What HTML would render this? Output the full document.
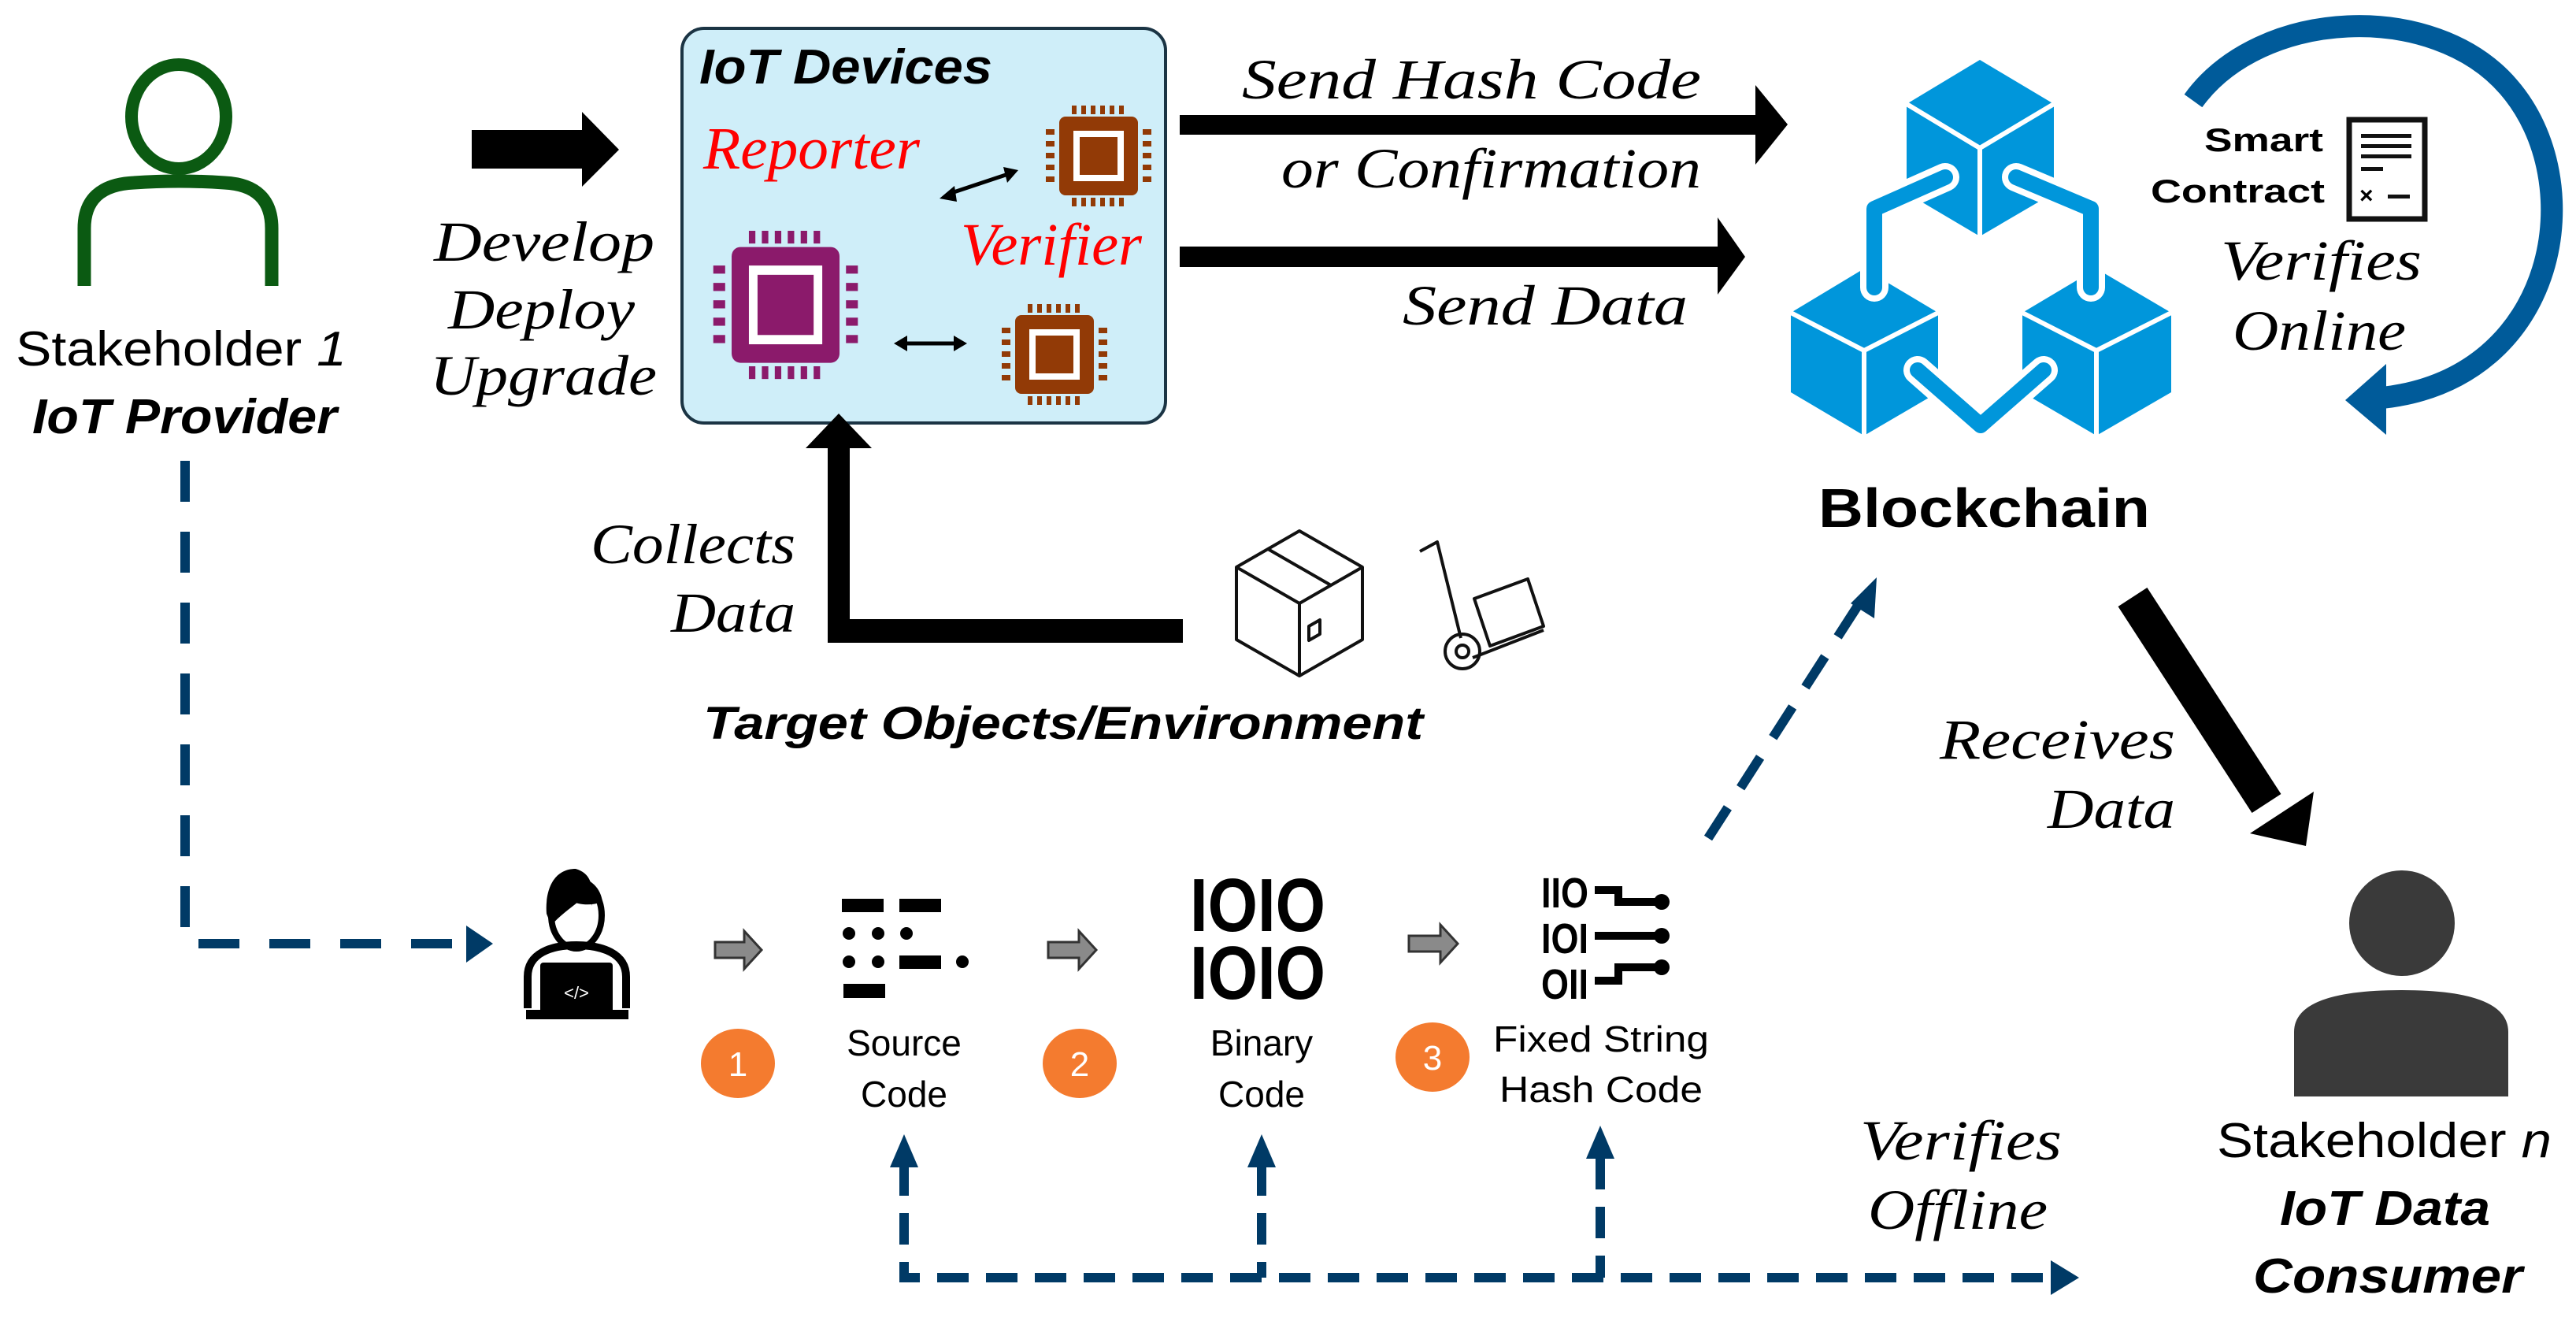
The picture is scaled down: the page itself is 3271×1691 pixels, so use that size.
<!DOCTYPE html>
<html><head><meta charset="utf-8"><style>html,body{margin:0;padding:0;background:#fff}svg{display:block}</style></head><body>
<svg xmlns="http://www.w3.org/2000/svg" width="3271" height="1691" viewBox="0 0 3271 1691">
<defs>
<g id="chip">
<rect x="19" y="14" width="100" height="100" rx="8" fill="#923a06"/>
<rect x="37" y="32" width="64" height="64" fill="#fff"/>
<rect x="45" y="40" width="48" height="48" fill="#923a06"/>
<g fill="#923a06">
<rect x="35" y="0" width="6" height="11"/><rect x="47" y="0" width="6" height="11"/><rect x="59" y="0" width="6" height="11"/><rect x="71" y="0" width="6" height="11"/><rect x="83" y="0" width="6" height="11"/><rect x="95" y="0" width="6" height="11"/>
<rect x="35" y="117" width="6" height="11"/><rect x="47" y="117" width="6" height="11"/><rect x="59" y="117" width="6" height="11"/><rect x="71" y="117" width="6" height="11"/><rect x="83" y="117" width="6" height="11"/><rect x="95" y="117" width="6" height="11"/>
<rect x="2" y="30" width="11" height="7"/><rect x="2" y="45" width="11" height="7"/><rect x="2" y="60" width="11" height="7"/><rect x="2" y="75" width="11" height="7"/><rect x="2" y="90" width="11" height="7"/>
<rect x="125" y="30" width="11" height="7"/><rect x="125" y="45" width="11" height="7"/><rect x="125" y="60" width="11" height="7"/><rect x="125" y="75" width="11" height="7"/><rect x="125" y="90" width="11" height="7"/>
</g>
</g>
</defs>

<!-- Stakeholder 1 -->
<ellipse cx="227" cy="148" rx="60" ry="66" fill="none" stroke="#0b5a12" stroke-width="16"/>
<path d="M107 363 V290 Q107 235 170 232 Q227 228 285 232 Q345 235 345 290 V363" fill="none" stroke="#0b5a12" stroke-width="17"/>
<text x="20" y="464" font-family="Liberation Sans, sans-serif" font-size="62" textLength="420" lengthAdjust="spacingAndGlyphs">Stakeholder <tspan font-style="italic">1</tspan></text>
<text x="41" y="550" font-family="Liberation Sans, sans-serif" font-size="62" font-weight="bold" font-style="italic" textLength="387" lengthAdjust="spacingAndGlyphs">IoT Provider</text>

<path d="M235 585 V1198 H600" fill="none" stroke="#003a66" stroke-width="12" stroke-dasharray="52 38"/>
<polygon points="592,1175 626,1198 592,1222" fill="#003a66"/>

<polygon points="599,165 739,165 739,142 786,190 739,237 739,214 599,214" fill="#000"/>

<g font-family="Liberation Serif, serif" font-style="italic" font-size="72">
<text x="551" y="331" textLength="280" lengthAdjust="spacingAndGlyphs">Develop</text>
<text x="569" y="417" textLength="237" lengthAdjust="spacingAndGlyphs">Deploy</text>
<text x="546" y="501" textLength="288" lengthAdjust="spacingAndGlyphs">Upgrade</text>
</g>

<rect x="866" y="36" width="614" height="501" rx="28" fill="#cfeef9" stroke="#1b3444" stroke-width="4"/>
<text x="888" y="106" font-family="Liberation Sans, sans-serif" font-size="62" font-weight="bold" font-style="italic" textLength="372" lengthAdjust="spacingAndGlyphs">IoT Devices</text>
<text x="893" y="214" font-family="Liberation Serif, serif" font-size="76" font-style="italic" fill="#ff0000" textLength="275" lengthAdjust="spacingAndGlyphs">Reporter</text>
<text x="1220" y="336" font-family="Liberation Serif, serif" font-size="76" font-style="italic" fill="#ff0000" textLength="230" lengthAdjust="spacingAndGlyphs">Verifier</text>
<use href="#chip" x="1326" y="134"/>
<use href="#chip" x="1270" y="386"/>
<g transform="translate(903,293) scale(1.37,1.47)">
<rect x="19" y="14" width="100" height="100" rx="8" fill="#8b1a6b"/>
<rect x="35" y="30" width="68" height="68" fill="#fff"/>
<rect x="43" y="38" width="52" height="52" fill="#8b1a6b"/>
<g fill="#8b1a6b">
<rect x="35" y="0" width="6" height="11"/><rect x="47" y="0" width="6" height="11"/><rect x="59" y="0" width="6" height="11"/><rect x="71" y="0" width="6" height="11"/><rect x="83" y="0" width="6" height="11"/><rect x="95" y="0" width="6" height="11"/>
<rect x="35" y="117" width="6" height="11"/><rect x="47" y="117" width="6" height="11"/><rect x="59" y="117" width="6" height="11"/><rect x="71" y="117" width="6" height="11"/><rect x="83" y="117" width="6" height="11"/><rect x="95" y="117" width="6" height="11"/>
<rect x="2" y="30" width="11" height="7"/><rect x="2" y="45" width="11" height="7"/><rect x="2" y="60" width="11" height="7"/><rect x="2" y="75" width="11" height="7"/><rect x="2" y="90" width="11" height="7"/>
<rect x="125" y="30" width="11" height="7"/><rect x="125" y="45" width="11" height="7"/><rect x="125" y="60" width="11" height="7"/><rect x="125" y="75" width="11" height="7"/><rect x="125" y="90" width="11" height="7"/>
</g></g>
<line x1="1205" y1="246" x2="1280" y2="221" stroke="#000" stroke-width="5"/>
<polygon points="1193,252 1212,236 1215,256" fill="#000"/>
<polygon points="1293,216 1274,212 1279,232" fill="#000"/>
<line x1="1148" y1="436" x2="1214" y2="436" stroke="#000" stroke-width="5"/>
<polygon points="1135,436 1152,426 1152,446" fill="#000"/>
<polygon points="1228,436 1211,426 1211,446" fill="#000"/>

<polygon points="1498,146 2229,146 2229,108 2270,158 2229,209 2229,171 1498,171" fill="#000"/>
<polygon points="1498,313 2181,313 2181,276 2216,326 2181,374 2181,339 1498,339" fill="#000"/>
<g font-family="Liberation Serif, serif" font-style="italic" font-size="72">
<text x="1577" y="125" textLength="583" lengthAdjust="spacingAndGlyphs">Send Hash Code</text>
<text x="1627" y="238" textLength="533" lengthAdjust="spacingAndGlyphs">or Confirmation</text>
<text x="1781" y="412" textLength="362" lengthAdjust="spacingAndGlyphs">Send Data</text>
<text x="750" y="715" textLength="260" lengthAdjust="spacingAndGlyphs">Collects</text>
<text x="852" y="802" textLength="158" lengthAdjust="spacingAndGlyphs">Data</text>
<text x="2820" y="355" textLength="255" lengthAdjust="spacingAndGlyphs">Verifies</text>
<text x="2835" y="444" textLength="220" lengthAdjust="spacingAndGlyphs">Online</text>
<text x="2463" y="963" textLength="299" lengthAdjust="spacingAndGlyphs">Receives</text>
<text x="2600" y="1051" textLength="162" lengthAdjust="spacingAndGlyphs">Data</text>
<text x="2362" y="1472" textLength="256" lengthAdjust="spacingAndGlyphs">Verifies</text>
<text x="2372" y="1560" textLength="228" lengthAdjust="spacingAndGlyphs">Offline</text>
</g>

<polygon points="1051,569 1023,569 1065,525 1107,569 1079,569 1079,786 1502,786 1502,816 1051,816" fill="#000"/>

<g fill="none" stroke="#111" stroke-width="4" stroke-linejoin="round">
<polygon points="1650,674 1730,720 1730,812 1650,858 1570,812 1570,720"/>
<polyline points="1570,720 1650,766 1730,720"/>
<line x1="1650" y1="766" x2="1650" y2="858"/>
<line x1="1610" y1="697" x2="1690" y2="743"/>
<polygon points="1662,795 1676,787 1676,805 1662,813"/>
</g>
<g fill="none" stroke="#111" stroke-width="4" stroke-linejoin="round">
<polyline points="1803,700 1825,688 1855,810"/>
<polygon points="1872,760 1940,735 1960,795 1892,820"/>
<line x1="1870" y1="835" x2="1960" y2="800"/>
<circle cx="1857" cy="827" r="22"/>
<circle cx="1857" cy="827" r="8"/>
</g>
<text x="893" y="938" font-family="Liberation Sans, sans-serif" font-size="58" font-weight="bold" font-style="italic" textLength="914" lengthAdjust="spacingAndGlyphs">Target Objects/Environment</text>

<g fill="#0096db">
<polygon points="2514,76 2608,132 2608,245 2514,300 2421,245 2421,132"/>
<polygon points="2367,341 2461,397 2461,498 2367,553 2274,498 2274,397"/>
<polygon points="2662,341 2757,397 2757,498 2662,553 2568,498 2568,397"/>
</g>
<g stroke="#fff" stroke-width="6" fill="none">
<polyline points="2421,132 2514,188 2608,132"/><line x1="2514" y1="188" x2="2514" y2="300"/>
<polyline points="2274,397 2367,445 2461,397"/><line x1="2367" y1="445" x2="2367" y2="553"/>
<polyline points="2568,397 2662,445 2757,397"/><line x1="2662" y1="445" x2="2662" y2="553"/>
</g>
<g fill="none" stroke-linejoin="round" stroke-linecap="round">
<path d="M2470,225 L2380,265 V365" stroke="#fff" stroke-width="36"/>
<path d="M2470,225 L2380,265 V365" stroke="#0096db" stroke-width="20"/>
<path d="M2560,225 L2655,265 V365" stroke="#fff" stroke-width="36"/>
<path d="M2560,225 L2655,265 V365" stroke="#0096db" stroke-width="20"/>
<path d="M2435,470 L2515,540 L2595,470" stroke="#fff" stroke-width="36"/>
<path d="M2435,470 L2515,540 L2595,470" stroke="#0096db" stroke-width="20"/>
</g>
<text x="2309" y="669" font-family="Liberation Sans, sans-serif" font-size="70" font-weight="bold" textLength="421" lengthAdjust="spacingAndGlyphs">Blockchain</text>

<path d="M2785,128 C2870,10 3090,0 3185,110 C3290,230 3250,480 3025,505" fill="none" stroke="#005b9a" stroke-width="28"/>
<polygon points="2978,508 3030,462 3030,552" fill="#005b9a"/>
<text x="2799" y="192" font-family="Liberation Sans, sans-serif" font-size="42" font-weight="bold" textLength="151" lengthAdjust="spacingAndGlyphs">Smart</text>
<text x="2731" y="257" font-family="Liberation Sans, sans-serif" font-size="42" font-weight="bold" textLength="221" lengthAdjust="spacingAndGlyphs">Contract</text>
<rect x="2983" y="152" width="96" height="126" fill="#fff" stroke="#111" stroke-width="7"/>
<g fill="#111"><rect x="2998" y="170" width="64" height="5"/><rect x="2998" y="183" width="64" height="5"/><rect x="2998" y="196" width="64" height="5"/><rect x="2998" y="212" width="28" height="5"/><rect x="3032" y="247" width="28" height="5"/></g>
<text x="2996" y="258" font-family="Liberation Sans, sans-serif" font-size="30" font-weight="bold">×</text>

<line x1="2169" y1="1064" x2="2368" y2="755" stroke="#003a66" stroke-width="12" stroke-dasharray="46 30"/>
<polygon points="2383,733 2380,785 2350,766" fill="#003a66"/>

<line x1="2708" y1="758" x2="2878" y2="1020" stroke="#000" stroke-width="44"/>
<polygon points="2928,1074 2938,1005 2857,1058" fill="#000"/>

<g fill="#000">
<path d="M731,1103 C700,1103 692,1135 694,1160 L700,1175 C712,1160 730,1150 748,1133 L752,1150 C752,1135 756,1110 731,1103Z"/>
<ellipse cx="732" cy="1162" rx="32" ry="42" fill="none" stroke="#000" stroke-width="8"/>
<path d="M700,1125 C705,1105 760,1105 765,1145 C750,1150 735,1150 715,1140Z"/>
<path d="M670,1280 V1240 C670,1210 700,1200 732,1200 C764,1200 795,1210 795,1240 V1280" fill="none" stroke="#000" stroke-width="10"/>
<rect x="686" y="1222" width="92" height="66" rx="4"/>
<rect x="668" y="1282" width="130" height="12"/>
</g>
<text x="732" y="1268" font-family="Liberation Sans, sans-serif" font-size="22" fill="#fff" text-anchor="middle">&lt;/&gt;</text>

<g fill="#8a8a8a" stroke="#333" stroke-width="3">
<polygon points="908,1196 945,1196 945,1182 967,1206 945,1230 945,1216 908,1216"/>
<polygon points="1331,1196 1370,1196 1370,1182 1392,1206 1370,1230 1370,1216 1331,1216"/>
<polygon points="1789,1188 1829,1188 1829,1174 1851,1198 1829,1222 1829,1208 1789,1208"/>
</g>

<g fill="#f47b2f"><ellipse cx="937" cy="1350" rx="47" ry="44"/><ellipse cx="1371" cy="1350" rx="47" ry="44"/><ellipse cx="1819" cy="1342" rx="47" ry="44"/></g>
<g font-family="Liberation Sans, sans-serif" font-size="44" fill="#fff" text-anchor="middle">
<text x="937" y="1366">1</text><text x="1371" y="1366">2</text><text x="1819" y="1358">3</text>
</g>

<g fill="#000">
<rect x="1069" y="1141" width="53" height="17"/><rect x="1142" y="1141" width="53" height="17"/>
<circle cx="1078" cy="1185" r="8"/><circle cx="1115" cy="1185" r="8"/><circle cx="1151" cy="1185" r="8"/>
<circle cx="1078" cy="1221" r="8"/><circle cx="1115" cy="1221" r="8"/><rect x="1142" y="1213" width="53" height="17"/><circle cx="1222" cy="1221" r="8"/>
<rect x="1071" y="1249" width="53" height="18"/>
</g>

<g font-family="Liberation Sans, sans-serif" font-weight="bold" font-size="96" text-anchor="middle">
<text x="1597" y="1182" textLength="172" lengthAdjust="spacingAndGlyphs">IOIO</text>
<text x="1597" y="1268" textLength="172" lengthAdjust="spacingAndGlyphs">IOIO</text>
</g>

<g font-family="Liberation Sans, sans-serif" font-weight="bold" font-size="54">
<text x="1957" y="1152" textLength="60" lengthAdjust="spacingAndGlyphs">IIO</text>
<text x="1957" y="1210" textLength="60" lengthAdjust="spacingAndGlyphs">IOI</text>
<text x="1957" y="1268" textLength="60" lengthAdjust="spacingAndGlyphs">OII</text>
</g>
<g fill="none" stroke="#000" stroke-width="10">
<polyline points="2025,1130 2055,1130 2055,1145 2110,1145"/>
<line x1="2025" y1="1188" x2="2110" y2="1188"/>
<polyline points="2025,1245 2055,1245 2055,1228 2110,1228"/>
</g>
<g fill="#000"><circle cx="2110" cy="1145" r="10"/><circle cx="2110" cy="1188" r="10"/><circle cx="2110" cy="1228" r="10"/></g>

<g font-family="Liberation Sans, sans-serif" font-size="46" text-anchor="middle">
<text x="1148" y="1340">Source</text><text x="1148" y="1405">Code</text>
<text x="1602" y="1340">Binary</text><text x="1602" y="1405">Code</text>
<text x="2033" y="1335" textLength="274" lengthAdjust="spacingAndGlyphs">Fixed String</text>
<text x="2033" y="1399" textLength="258" lengthAdjust="spacingAndGlyphs">Hash Code</text>
</g>

<g fill="none" stroke="#003a66" stroke-width="12" stroke-dasharray="40 22">
<path d="M1148,1478 V1622 H2610"/>
<path d="M1602,1478 V1622"/>
<path d="M2032,1470 V1622"/>
</g>
<g fill="#003a66">
<polygon points="1148,1440 1130,1482 1166,1482"/>
<polygon points="1602,1440 1584,1482 1620,1482"/>
<polygon points="2032,1429 2014,1471 2050,1471"/>
<polygon points="2640,1622 2604,1600 2604,1644"/>
</g>

<g fill="#3a3a3a">
<ellipse cx="3050" cy="1172" rx="67" ry="67"/>
<path d="M2913,1392 V1310 Q2913,1257 3050,1257 Q3185,1257 3185,1310 V1392Z"/>
</g>
<text x="2815" y="1469" font-family="Liberation Sans, sans-serif" font-size="62" textLength="425" lengthAdjust="spacingAndGlyphs">Stakeholder <tspan font-style="italic">n</tspan></text>
<text x="2895" y="1555" font-family="Liberation Sans, sans-serif" font-size="62" font-weight="bold" font-style="italic" textLength="267" lengthAdjust="spacingAndGlyphs">IoT Data</text>
<text x="2861" y="1641" font-family="Liberation Sans, sans-serif" font-size="62" font-weight="bold" font-style="italic" textLength="342" lengthAdjust="spacingAndGlyphs">Consumer</text>
</svg>
</body></html>
